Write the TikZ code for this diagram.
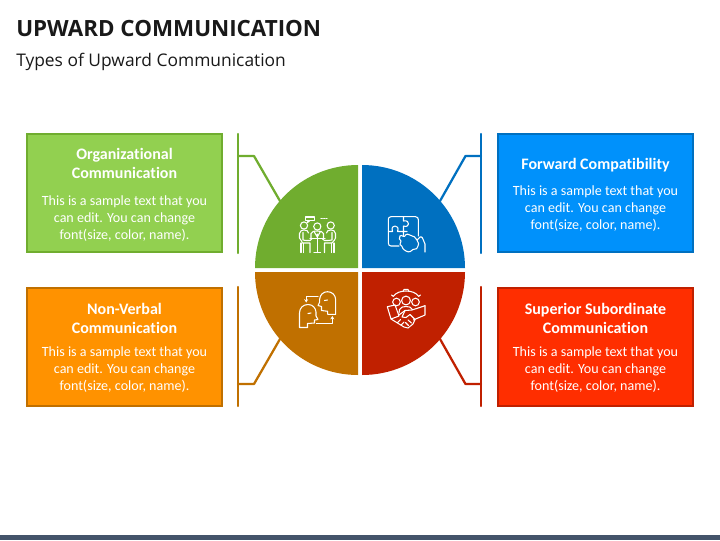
\documentclass[tikz,border=0pt]{standalone}
\usepackage{fontspec}
\usetikzlibrary{arrows.meta}
\setmainfont[Ligatures=NoCommon]{Carlito}
\newfontfamily\headfont{Open Sans}
\definecolor{gl}{HTML}{92D050}\definecolor{gd}{HTML}{70AD2F}
\definecolor{bl}{HTML}{0091FB}\definecolor{bd}{HTML}{0070C0}
\definecolor{ol}{HTML}{FF9200}\definecolor{od}{HTML}{C07000}
\definecolor{rl}{HTML}{FF2E00}\definecolor{rd}{HTML}{C02000}
\definecolor{barc}{HTML}{44546A}
\tikzset{
  cardbox/.style={draw=#1,line width=1.5pt,minimum width=146pt,minimum height=88.5pt,inner sep=0pt},
  cardtitle/.style={text=white,font=\fontsize{12pt}{14.25pt}\selectfont\bfseries,align=center,inner sep=0pt},
  cardbody/.style={text=white,font=\fontsize{10.55pt}{12.75pt}\selectfont,align=center,inner sep=0pt},
  link/.style={draw=#1,line width=1.7pt,line cap=round,line join=round},
  ico/.style={draw=white,line width=0.8pt,line join=round,line cap=round,fill=none},
}
\begin{document}
\begin{tikzpicture}[x=0.75pt,y=-0.75pt]
\useasboundingbox (0,0) rectangle (720,540);
\fill[barc] (0,535) rectangle (720,540);
\node[anchor=west,inner sep=0pt,font=\headfont\fontsize{16.77pt}{20pt}\selectfont\bfseries,text=black!90] (title) at (16,28.5) {UPWARD COMMUNICATION};
\node[anchor=west,inner sep=0pt,font=\headfont\fontsize{13.05pt}{16pt}\selectfont,text=black!90] (subtitle) at (16,62) {Types of Upward Communication};

% cards
\node[cardbox=gd,fill=gl] (c1) at (124.5,193) {};
\node[cardbox=bd,fill=bl] (c2) at (595.5,193) {};
\node[cardbox=od,fill=ol] (c3) at (124.5,346.5) {};
\node[cardbox=rd,fill=rl] (c4) at (595.5,346.5) {};
\node[cardtitle] (t1) at (124.5,163.5) {Organizational\\Communication};
\node[cardtitle] (t2) at (595.5,165.5) {Forward Compatibility};
\node[cardtitle] (t3) at (124.5,318.5) {Non-Verbal\\Communication};
\node[cardtitle] (t4) at (595.5,318.5) {Superior Subordinate\\Communication};
\node[cardbody] (b1) at (124.5,218.5) {This is a sample text that you\\can edit. You can change\\font(size, color, name).};
\node[cardbody] (b2) at (595.5,208.5) {This is a sample text that you\\can edit. You can change\\font(size, color, name).};
\node[cardbody] (b3) at (124.5,370) {This is a sample text that you\\can edit. You can change\\font(size, color, name).};
\node[cardbody] (b4) at (595.5,370) {This is a sample text that you\\can edit. You can change\\font(size, color, name).};

% connectors
\coordinate (a1) at (238,134);\coordinate (a2) at (238,253);\coordinate (am) at (238,156);\coordinate (ae) at (254,156);\coordinate (af) at (280,201);
\coordinate (d1) at (481,134);\coordinate (d2) at (481,253);\coordinate (dm) at (481,156);\coordinate (de) at (465.5,156);\coordinate (df) at (440,201);
\coordinate (g1) at (238,287);\coordinate (g2) at (238,406);\coordinate (gm) at (238,384);\coordinate (ge) at (254,384);\coordinate (gf) at (280,339);
\coordinate (j1) at (481,287);\coordinate (j2) at (481,406);\coordinate (jm) at (481,384);\coordinate (je) at (465.5,384);\coordinate (jf) at (440,339);
\draw[link=gd] (a1) -- (a2);\draw[link=gd] (am) -- (ae) -- (af);
\draw[link=bd] (d1) -- (d2);\draw[link=bd] (dm) -- (de) -- (df);
\draw[link=od] (g1) -- (g2);\draw[link=od] (gm) -- (ge) -- (gf);
\draw[link=rd] (j1) -- (j2);\draw[link=rd] (jm) -- (je) -- (jf);

% quadrants
\fill[gd] (358,268) -- (255,268) arc[start angle=180,end angle=270,radius=103] -- cycle;
\fill[bd] (362,268) -- (362,165) arc[start angle=270,end angle=360,radius=103] -- cycle;
\fill[od] (358,272) -- (358,375) arc[start angle=90,end angle=180,radius=103] -- cycle;
\fill[rd] (362,272) -- (465,272) arc[start angle=0,end angle=90,radius=103] -- cycle;

% icon: meeting
\draw[ico] (305.5,217) rectangle (314.5,220.5);
\draw[ico] (308,220.5) -- (307.5,222.5) -- (310,220.5);
\draw[ico,dash pattern=on 1pt off 1pt] (321,218.5) -- (327,218.5);
\foreach \hx/\hy in {304/225.5,317.3/226.5,330.7/225.5} \draw[ico] (\hx,\hy) circle[radius=3.6];
\draw[ico] (310,252.5) -- (310,243) -- (302.5,243) -- (301.5,241) -- (299.5,238) -- (299.5,233.5) .. controls (300,230.5) and (302,230) .. (304,230) .. controls (307,230) and (308,231) .. (308.5,233);
\draw[ico] (303,232.5) -- (303,240) -- (306,240.5) -- (310,240.5) -- (312,238.5);
\draw[ico] (301,243) -- (301,252.5) (303.5,243.5) -- (303.5,252.5);
\draw[ico] (324.5,252.5) -- (324.5,243) -- (332,243) -- (334.5,240) -- (335.5,238) -- (335.5,233.5) .. controls (335,230.5) and (333,230) .. (331,230) .. controls (328,230) and (327,231) .. (326.5,233);
\draw[ico] (332,232.5) -- (332,240) -- (328,240.5) -- (324.5,240.5) -- (322,238.5);
\draw[ico] (334,243) -- (334,252.5) (331.5,243.5) -- (331.5,252.5);
\draw[ico] (311,238) -- (311,233.5) .. controls (311.5,231.5) and (314,231) .. (317.3,231) .. controls (320.5,231) and (323,231.5) .. (323.5,233.5) -- (323.5,238);
\draw[ico] (314,231.5) -- (317.3,237) -- (320.5,231.5) (317.3,234) -- (317.3,238);
\draw[ico] (310,238.2) -- (325,238.2) (317.3,238.2) -- (317.3,252.5) (314,252.7) -- (320.5,252.7);

% icon: puzzle
\draw[ico] (403.5,216.7) -- (391,216.7) .. controls (389,216.7) and (388.3,218) .. (388.3,219.5) -- (388.3,243) .. controls (388.3,245) and (389.5,246) .. (391,246) -- (399,246);
\draw[ico] (403.5,216.7) -- (415.5,216.7) .. controls (417.5,216.7) and (418.3,218) .. (418.3,219.5) -- (418.3,236);
\draw[ico] (403.5,216.7) -- (403.5,221) .. controls (407.5,220) and (408.5,222.5) .. (408.5,224) .. controls (408.5,226) and (406.5,227) .. (403.5,226) -- (403.5,231.5) -- (407,231.5);
\draw[ico] (388.3,231.5) -- (392.5,231.5) .. controls (391,227) and (393.5,226) .. (395,226) .. controls (397,226) and (399,227.5) .. (397.5,231.5) -- (403.5,231.5) -- (403.5,235.5);
\draw[ico] (400,236) .. controls (403,234) and (402,238) .. (404.5,236.5) .. controls (406,233) and (409,234) .. (411,235.5) .. controls (414,235) and (415,238) .. (417,240) -- (420,237) .. controls (421,236.5) and (422,237) .. (422.5,238) -- (425,244) -- (425,252);
\draw[ico] (400,236) .. controls (398,238) and (400,240) .. (401,241) .. controls (399,243) and (400,246) .. (402,246.5) .. controls (403,250) and (405,250) .. (406,251) .. controls (409,253) and (412,251) .. (413,249.5) .. controls (416,250) and (418,248) .. (418,246) .. controls (420,245) and (418,243) .. (417,240);

% icon: faces
\draw[ico] (299.5,327.5) -- (299.5,313) .. controls (299.5,308) and (303,304.5) .. (308,304.5) .. controls (313,304.5) and (315.5,308) .. (316,312) -- (316,316) -- (318,319.5) -- (314.5,320) -- (314.5,323) -- (307.5,323.5) -- (307.5,327.5) -- cycle;
\draw[ico] (308,313.5) -- (311,313);
\draw[ico] (335.7,314.3) -- (335.7,300) .. controls (335.7,295) and (332,291.7) .. (327.5,291.7) .. controls (323,291.7) and (320,295) .. (319.7,299) -- (319.7,302) -- (318,305.5) -- (321.5,306.5) -- (321.5,310.5) -- (327.7,311.3) -- (327.7,314.3) -- cycle;
\draw[ico] (324.5,300.5) -- (327.5,300);
\draw[ico,-{Stealth[length=2.5pt,width=3pt]}] (318,296.7) -- (306.2,296.7) -- (306.2,302.5);
\draw[ico,-{Stealth[length=2.5pt,width=3pt]}] (316.5,323.3) -- (332.3,323.3) -- (332.3,316);

% icon: handshake
\draw[ico] (406,300.5) circle[radius=4.4];
\draw[ico] (396.5,302) circle[radius=3.8];
\draw[ico] (415.5,302) circle[radius=3.8];
\draw[ico] (393,296.5) .. controls (396,292.5) and (401,291) .. (406,291) .. controls (411,291) and (416,292.5) .. (419,296.5);
\draw[ico] (403,291.5) -- (404,289.5) -- (408,289.5) -- (409,291.5);
\draw[ico] (393,296) -- (391.5,295) (419,296) -- (420.5,295);
\draw[ico] (399,313) -- (399.5,309.5) .. controls (401,307) and (403,306.5) .. (406,306.5) .. controls (409,306.5) and (411,307) .. (412.5,309.5);
\draw[ico] (387.3,306.7) -- (395,305) -- (399,316) -- (391,319) -- cycle;
\draw[ico] (425,305.7) -- (425,315) -- (413.3,320);
\draw[ico] (425,305.7) -- (412,310) -- (405,310.5) -- (399,315);
\draw[ico] (405,310.5) -- (402,317) -- (406,317.5) -- (410,314.5) -- (415,319.5) -- (413,324) -- (408,328) -- (404,327) -- (391,319);
\draw[ico] (397.5,322.5) -- (400.5,319.5) (401,325) -- (404,322) (408,320) -- (411.5,323) (405.5,322.5) -- (408.5,325.5);
\end{tikzpicture}
\end{document}
